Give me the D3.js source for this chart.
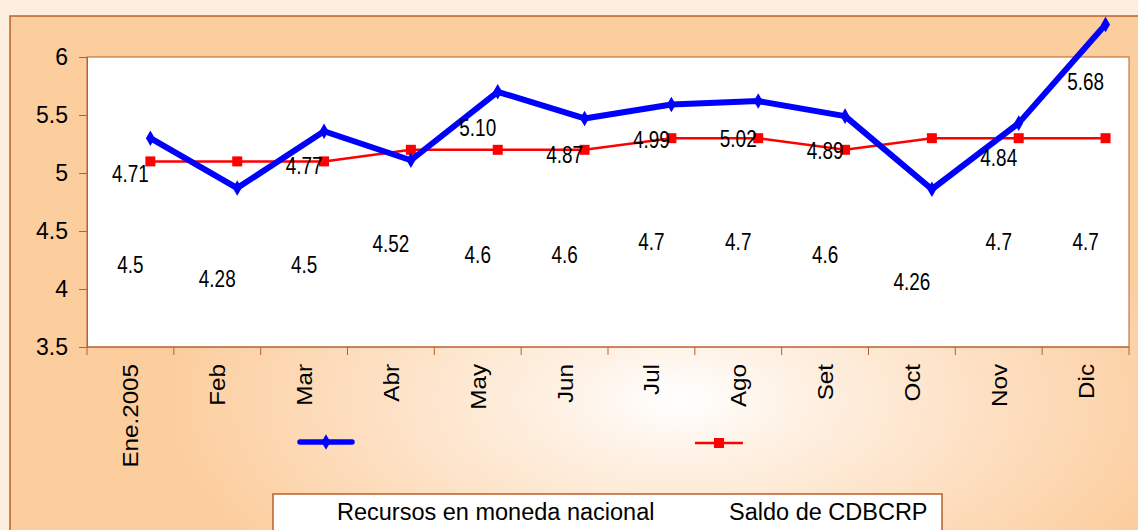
<!DOCTYPE html>
<html>
<head>
<meta charset="utf-8">
<script src="https://cdn.jsdelivr.net/npm/d3@7"></script>
<style>
  body { margin: 0; background: #fdeedd; }
  svg { display: block; font-family: Arial, "Liberation Sans", sans-serif; }
</style>
</head>
<body>
<div id="chart"></div>
<script>
// values
const months = ["Ene.2005", "Feb", "Mar", "Abr", "May", "Jun", "Jul", "Ago", "Set", "Oct", "Nov", "Dic"];
const recursos = [5.30, 4.87, 5.36, 5.11, 5.70, 5.47, 5.59, 5.62, 5.49, 4.86, 5.43, 6.28];
const saldo = [5.1, 5.1, 5.1, 5.2, 5.2, 5.2, 5.3, 5.3, 5.2, 5.3, 5.3, 5.3];
const upperLabels = ["4.71", "", "4.77", "", "5.10", "4.87", "4.99", "5.02", "4.89", "", "4.84", "5.68"];
const upperLabelAt = [4.99, null, 5.06, null, 5.39, 5.16, 5.29, 5.30, 5.19, null, 5.13, 5.79];
const lowerLabels = ["4.5", "4.28", "4.5", "4.52", "4.6", "4.6", "4.7", "4.7", "4.6", "4.26", "4.7", "4.7"];
const lowerLabelAt = [4.21, 4.085, 4.21, 4.39, 4.30, 4.30, 4.41, 4.41, 4.30, 4.06, 4.41, 4.41];
const yTicks = [3.5, 4, 4.5, 5, 5.5, 6];
const seriesNames = ["Recursos en moneda nacional", "Saldo de CDBCRP"];

const width = 1138,
    height = 530;
const plot = { left: 87, right: 1129, top: 57, bottom: 347 };
const brown = "#b9602a";

let svg = d3.select("#chart")
    .append("svg")
    .attr("width", width)
    .attr("height", height);

// peach frame with a light centre
let defs = svg.append("defs");
let grad = defs.append("radialGradient")
    .attr("id", "frameGrad")
    .attr("gradientUnits", "userSpaceOnUse")
    .attr("cx", 680).attr("cy", 400).attr("r", 520)
    .attr("gradientTransform", "translate(680,400) scale(1,0.5) translate(-680,-400)");
grad.append("stop").attr("offset", "0").attr("stop-color", "#ffffff");
grad.append("stop").attr("offset", "0.25").attr("stop-color", "#fef0e2");
grad.append("stop").attr("offset", "1").attr("stop-color", "#fccd9d");

svg.append("rect")
    .attr("width", width).attr("height", height)
    .attr("fill", "#fdeedd");

svg.append("rect")
    .attr("x", 10).attr("y", 16)
    .attr("width", width + 20).attr("height", height)
    .attr("fill", "url(#frameGrad)")
    .attr("stroke", brown)
    .attr("stroke-width", 1.5);

svg.append("rect")
    .attr("x", plot.left).attr("y", plot.top)
    .attr("width", plot.right - plot.left).attr("height", plot.bottom - plot.top)
    .attr("fill", "#fff")
    .attr("stroke", brown)
    .attr("stroke-width", 1);

let x = d3.scaleBand()
    .domain(months)
    .range([plot.left, plot.right]);

let y = d3.scaleLinear()
    .domain([3.5, 6])
    .range([plot.bottom, plot.top]);

// points sit right of the band centre in the original
let px = function (i) { return x(months[i]) + x.bandwidth() * 0.73; };
let cx = function (i) { return x(months[i]) + x.bandwidth() / 2; };

// y axis
let yAxis = svg.append("g")
    .attr("transform", "translate(" + plot.left + ",0)")
    .call(d3.axisLeft(y).tickValues(yTicks).tickFormat(d3.format("")).tickSize(8).tickSizeOuter(0).tickPadding(11));
yAxis.select(".domain").attr("stroke", brown);
yAxis.selectAll(".tick line").attr("stroke", brown);
yAxis.selectAll(".tick text")
    .attr("fill", "#000")
    .style("font-size", "23px")
    .style("font-family", "Arial, 'Liberation Sans', sans-serif");

// x axis ticks at band edges
let edges = months.map(function (m) { return x(m); }).concat([x.range()[1]]);
svg.append("g")
    .selectAll("line")
    .data(edges)
    .enter()
    .append("line")
    .attr("x1", function (d) { return d; })
    .attr("x2", function (d) { return d; })
    .attr("y1", plot.bottom)
    .attr("y2", plot.bottom + 8)
    .attr("stroke", brown);

svg.append("line")
    .attr("x1", plot.left).attr("x2", plot.right)
    .attr("y1", plot.bottom).attr("y2", plot.bottom)
    .attr("stroke", brown);

svg.append("g")
    .selectAll("text")
    .data(months)
    .enter()
    .append("text")
    .attr("transform", function (d) {
        return "translate(" + (x(d) + x.bandwidth() / 2 + 8) + ",364) rotate(-90) scale(1.1,1)";
    })
    .attr("text-anchor", "end")
    .style("font-size", "22px")
    .attr("fill", "#000")
    .text(function (d) { return d; });

// lines
let line = function (vals) {
    return d3.line()
        .x(function (d, i) { return px(i); })
        .y(function (d) { return y(d); })(vals);
};

svg.append("path")
    .attr("d", line(saldo))
    .attr("fill", "none")
    .attr("stroke", "#ff0000")
    .attr("stroke-width", 2.5);

svg.append("g")
    .selectAll("rect")
    .data(saldo)
    .enter()
    .append("rect")
    .attr("x", function (d, i) { return px(i) - 5; })
    .attr("y", function (d) { return y(d) - 5; })
    .attr("width", 10).attr("height", 10)
    .attr("fill", "#ff0000");

svg.append("path")
    .attr("d", line(recursos))
    .attr("fill", "none")
    .attr("stroke", "#0000ff")
    .attr("stroke-width", 6)
    .attr("stroke-linejoin", "round");

let diamond = d3.symbol().type(d3.symbolDiamond).size(70);
svg.append("g")
    .selectAll("path")
    .data(recursos)
    .enter()
    .append("path")
    .attr("d", diamond)
    .attr("transform", function (d, i) { return "translate(" + px(i) + "," + y(d) + ")"; })
    .attr("fill", "#0000ff");

// data labels
let labelGroup = svg.append("g")
    .style("font-size", "22px")
    .attr("fill", "#000")
    .attr("text-anchor", "middle");

labelGroup.selectAll(".up")
    .data(upperLabels.map(function (t, i) { return { t: t, v: upperLabelAt[i], i: i }; }).filter(function (d) { return d.t !== ""; }))
    .enter()
    .append("text")
    .attr("class", "up")
    .attr("transform", function (d) { return "translate(" + cx(d.i) + "," + y(d.v) + ") scale(0.86,1.05)"; })
    .attr("dy", "0.36em")
    .text(function (d) { return d.t; });

labelGroup.selectAll(".low")
    .data(lowerLabels.map(function (t, i) { return { t: t, v: lowerLabelAt[i], i: i }; }))
    .enter()
    .append("text")
    .attr("class", "low")
    .attr("transform", function (d) { return "translate(" + cx(d.i) + "," + y(d.v) + ") scale(0.86,1.05)"; })
    .attr("dy", "0.36em")
    .text(function (d) { return d.t; });

// legend symbols
let legendSym = svg.append("g");
legendSym.append("line")
    .attr("x1", 300).attr("x2", 352).attr("y1", 442).attr("y2", 442)
    .attr("stroke", "#0000ff").attr("stroke-width", 5.5).attr("stroke-linecap", "round");
legendSym.append("path")
    .attr("d", diamond)
    .attr("transform", "translate(326,442)")
    .attr("fill", "#0000ff");
legendSym.append("line")
    .attr("x1", 695).attr("x2", 743).attr("y1", 443).attr("y2", 443)
    .attr("stroke", "#ff0000").attr("stroke-width", 2.5);
legendSym.append("rect")
    .attr("x", 714).attr("y", 438).attr("width", 10).attr("height", 10)
    .attr("fill", "#ff0000");

// legend box
svg.append("rect")
    .attr("x", 273).attr("y", 494)
    .attr("width", 669).attr("height", 60)
    .attr("fill", "#fff")
    .attr("stroke", brown)
    .attr("stroke-width", 1.5);

svg.append("g")
    .selectAll("text")
    .data(seriesNames)
    .enter()
    .append("text")
    .attr("x", function (d, i) { return [337, 729][i]; })
    .attr("y", 520)
    .style("font-size", "23.5px")
    .attr("fill", "#000")
    .text(function (d) { return d; });
</script>
</body>
</html>
